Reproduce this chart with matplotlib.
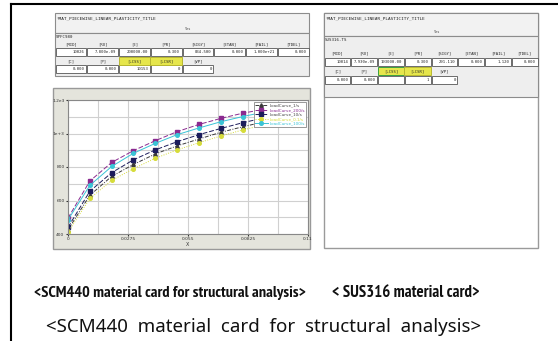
import matplotlib
matplotlib.use("Agg")
import matplotlib.pyplot as plt
from matplotlib import font_manager as fm
from matplotlib import patheffects as pe
from matplotlib.patches import Rectangle

W, H = 558, 341

# load curves (strain vs stress)
strain = [0.0, 0.01, 0.02, 0.03, 0.04, 0.05, 0.06, 0.07, 0.08, 0.09, 0.10]
lc_1s = [425, 631, 744, 815, 878, 926, 967, 1007, 1040, 1070, 1097]
lc_200s = [495, 716, 827, 898, 957, 1011, 1054, 1090, 1121, 1145, 1168]
lc_10s = [440, 655, 766, 843, 902, 951, 993, 1030, 1064, 1094, 1120]
lc_01s = [410, 612, 720, 790, 852, 902, 945, 985, 1021, 1052, 1080]
lc_100s = [485, 690, 803, 882, 941, 993, 1033, 1070, 1101, 1128, 1152]
curve_names = ["LoadCurve_1/s", "LoadCurve_200/s", "LoadCurve_10/s",
               "LoadCurve_0.1/s", "LoadCurve_100/s"]

xticks = [0, 0.0275, 0.055, 0.0825, 0.11]
xtick_labels = ["0", "0.0275", "0.055", "0.0825", "0.11"]
yticks = [400, 600, 800, 1000, 1200]
ytick_labels = ["400", "600", "800", "1e+3", "1.2e3"]

# card fields
card_labels_1 = ["[MID]", "[RO]", "[E]", "[PR]", "[SIGY]", "[ETAN]", "[FAIL]", "[TDEL]"]
card_labels_2 = ["[C]", "[P]", "[LCSS]", "[LCSR]", "[VP]"]
scm_vals_1 = ["10026", "7.800e-09", "200000.00", "0.300", "834.500", "0.000", "1.000e+21", "0.000"]
scm_vals_2 = ["0.000", "0.000", "10153", "0", "0"]
sus_vals_1 = ["10014", "7.930e-09", "193000.00", "0.300", "291.110", "0.000", "1.120", "0.000"]
sus_vals_2 = ["0.000", "0.000", "", "1", "0"]

caption_scm = "<SCM440 material card for structural analysis>"
caption_sus = "< SUS316 material card>"

fig = plt.figure(figsize=(W / 100, H / 100), dpi=100)
bg = fig.add_axes([0, 0, 1, 1], zorder=0)
bg.set_xlim(0, W)
bg.set_ylim(H, 0)
bg.axis("off")

mono = "DejaVu Sans Mono"

# outer black frame (top + left)
bg.plot([11, W], [4, 4], color="black", lw=1.5)
bg.plot([11, 11], [4, H], color="black", lw=1.5)


def box(x0, y0, x1, y1, fc="white", ec="#9a9a9a", lw=0.8, z=1):
    bg.add_patch(Rectangle((x0, y0), x1 - x0, y1 - y0, facecolor=fc, edgecolor=ec, lw=lw, zorder=z))


def card(x0, x1, y_top, title_bottom, hdr_bottom, name, vals1, vals2, yr, green=False):
    box(x0, y_top, x1, title_bottom, fc="#f2f2f2", ec="#8c8c8c")
    bg.text(x0 + 2, y_top + 5, "*MAT_PIECEWISE_LINEAR_PLASTICITY_TITLE", fontsize=3.2,
            family=mono, va="center", color="#222222", zorder=3)
    bg.text((x0 + x1) / 2 + 6, title_bottom - 4, "Yes", fontsize=2.6, family=mono,
            va="center", ha="center", color="#444444", zorder=3)
    box(x0, title_bottom, x1, hdr_bottom, fc="#eeeeee", ec="#8c8c8c")
    bg.text(x0 + 1, title_bottom + 4, name, fontsize=3.0, family=mono, va="center",
            color="#222222", zorder=3)
    fw = (x1 - x0) / 8
    l1, v1, l2, v2 = yr
    for i, (lab, v) in enumerate(zip(card_labels_1, vals1)):
        cx = x0 + fw * (i + 0.5)
        bg.text(cx, l1, lab, fontsize=2.8, family=mono, ha="center", va="center",
                color="#222222", zorder=3)
        box(x0 + fw * i + 0.5, v1 - 4, x0 + fw * (i + 1) - 0.5, v1 + 4, fc="white", ec="#555555", lw=0.6)
        bg.text(x0 + fw * (i + 1) - 2, v1, v, fontsize=2.8, family=mono, ha="right",
                va="center", color="#222222", zorder=3)
    for i, (lab, v) in enumerate(zip(card_labels_2, vals2)):
        cx = x0 + fw * (i + 0.5)
        if lab in ("[LCSS]", "[LCSR]"):
            ec = "#3aa040" if (green and lab == "[LCSS]") else "#b8b830"
            box(x0 + fw * i, l2 - 4, x0 + fw * (i + 1), l2 + 4, fc="#e6e64c", ec=ec, lw=0.7, z=2)
        bg.text(cx, l2, lab, fontsize=2.8, family=mono, ha="center", va="center",
                color="#222222", zorder=3)
        box(x0 + fw * i + 0.5, v2 - 4, x0 + fw * (i + 1) - 0.5, v2 + 4, fc="white", ec="#555555", lw=0.6)
        bg.text(x0 + fw * (i + 1) - 2, v2, v, fontsize=2.8, family=mono, ha="right",
                va="center", color="#222222", zorder=3)


# left card (SCM440)
card(55, 309, 13, 33, 76, "SPFC980", scm_vals_1, scm_vals_2, (44, 52, 61, 69))
# chart frame
box(53, 88, 310, 249, fc="#e4e4dc", ec="#999999", lw=1.0)

# right card (SUS316)
box(324, 13, 538, 248, fc="white", ec="#9a9a9a", lw=1.0)
card(324, 538, 13, 36, 97, "SUS316-TS", sus_vals_1, sus_vals_2, (53, 62, 71, 80), green=True)

# chart
ax = fig.add_axes([68 / W, (H - 234) / H, 240 / W, 134 / H], zorder=2)
styles = [
    (lc_1s, "#3a3a3a", (0, (4, 1.5, 1, 1.5)), "^"),
    (lc_200s, "#8a2a90", (0, (5, 2)), "s"),
    (lc_10s, "#1c1c5c", (0, (5, 2)), "s"),
    (lc_01s, "#d6dc3a", (0, (1, 1.5)), "o"),
    (lc_100s, "#3ac4d6", "-", "o"),
]
for (vals, c, ls, mk), name in zip(styles, curve_names):
    ax.plot(strain, vals, color=c, ls=ls, lw=0.7, marker=mk, ms=2.6,
            mec=c, mfc=c, label=name)
ax.set_xlim(0, 0.11)
ax.set_ylim(400, 1200)
ax.set_xticks(xticks)
ax.set_xticklabels(xtick_labels)
ax.set_yticks(yticks)
ax.set_yticklabels(ytick_labels)
ax.set_xticks([0.01375 * k for k in range(9)], minor=True)
ax.set_yticks(list(range(400, 1201, 100)), minor=True)
ax.grid(True, which="both", color="#d0d0d0", lw=0.8)
ax.set_axisbelow(True)
ax.tick_params(labelsize=3.2, length=1.5, pad=1, colors="#333333", which="major")
ax.tick_params(which="minor", length=0)
for s in ax.spines.values():
    s.set_color("#888888")
    s.set_linewidth(0.8)
ax.set_xlabel("X", fontsize=3.5, labelpad=0.5, color="#333333")

leg = ax.legend(loc="upper right", bbox_to_anchor=(1.0, 1.0), fontsize=3.0,
                handlelength=3.0, labelspacing=0.15, borderpad=0.3, handletextpad=0.4,
                fancybox=False, edgecolor="#888888", framealpha=1)
leg.get_frame().set_linewidth(0.6)
for t, st in zip(leg.get_texts(), styles):
    t.set_color(st[1] if st[1] not in ("#3a3a3a", "#1c1c5c") else "#444444")


# captions: pick the mildest condensed face that has a real bold
def narrow_rank(n):
    if "Narrow" in n:
        return 0
    if "SemiCondensed" in n:
        return 1
    if "Condensed" in n and "Extra" not in n and "Ultra" not in n:
        return 2
    return 3


fonts = fm.fontManager.ttflist
narrow_bold = sorted({f.name for f in fonts
                      if ("Narrow" in f.name or "Condensed" in f.name) and f.weight == 700},
                     key=lambda n: (narrow_rank(n), n))
effects = []
if narrow_bold:
    cap_font = narrow_bold[0]
else:
    cap_font = "Roboto"

t1 = bg.text(170, 293, caption_scm, fontsize=9.5, family=cap_font, weight="bold",
             ha="center", va="center", color="#111111", path_effects=effects)
t2 = bg.text(406, 293, caption_sus, fontsize=9.5, family=cap_font, weight="bold",
             ha="center", va="center", color="#111111", path_effects=effects)
t3 = bg.text(264, 327, caption_scm.replace(" ", "  "), fontsize=12, family="Noto Sans",
             ha="center", va="center", color="#111111")

# shrink/grow each caption to the width it takes in the picture
fig.canvas.draw()
r = fig.canvas.get_renderer()
for t, target in [(t1, 274), (t2, 148), (t3, 435)]:
    w = t.get_window_extent(r).width
    t.set_fontsize(t.get_fontsize() * target / w)

fig.savefig("out.png", dpi=100)
